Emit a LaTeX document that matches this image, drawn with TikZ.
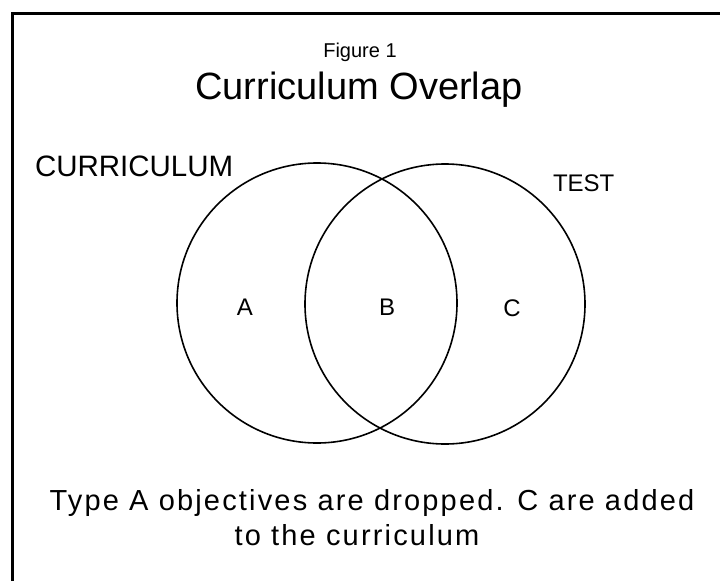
\documentclass[tikz,border=0pt]{standalone}
\usepackage{fontspec}
\setmainfont{Liberation Sans}
\newfontfamily\spacedfont[LetterSpace=7.5]{Liberation Sans}
\begin{document}
\begin{tikzpicture}[x=1pt,y=-1pt,
  lbl/.style={inner sep=0pt, outer sep=0pt, text=black},
  venn/.style={circle, draw=black, line width=1.6pt, minimum size=280pt, inner sep=0pt}]
\useasboundingbox (0,0) rectangle (720,581);
% frame (top and left edges only)
\draw[line width=3pt, line join=miter] (12,581) -- (12,13) -- (720,13);
% titles
\node[lbl, anchor=base] (fig) at (360,57) {\fontsize{20}{22}\selectfont Figure 1};
\node[lbl, anchor=base] (title) at (359,99) {\fontsize{38}{42}\selectfont Curriculum Overlap};
% circles
\node[venn] (cur) at (317,303) {};
\node[venn] (tst) at (445,304) {};
% set labels
\node[lbl, anchor=base west] (curlbl) at (35,176) {\fontsize{29.5}{32}\selectfont CURRICULUM};
\node[lbl, anchor=base west] (tstlbl) at (553,191) {\fontsize{24}{28}\selectfont TEST};
% region labels
\node[lbl] (a) at (245,307) {\fontsize{24}{26}\selectfont A};
\node[lbl] (b) at (387,307) {\fontsize{24}{26}\selectfont B};
\node[lbl] (c) at (512,308) {\fontsize{24}{26}\selectfont C};
% caption
\node[lbl, anchor=base] (cap1) at (372,510) {\spacedfont\fontsize{29}{32}\selectfont Type A objectives are dropped. C are added};
\node[lbl, anchor=base] (cap2) at (357,545) {\spacedfont\fontsize{29}{32}\selectfont to the curriculum};
\end{tikzpicture}
\end{document}
